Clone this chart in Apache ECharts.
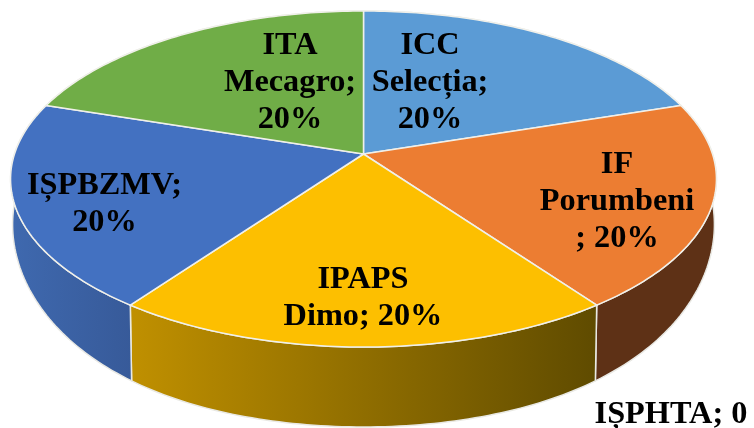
<!DOCTYPE html>
<html>
<head>
<meta charset="utf-8">
<style>
  html, body { margin: 0; padding: 0; background: #fff; }
  #chart { width: 754px; height: 428px; }
</style>
<script src="https://cdn.jsdelivr.net/npm/echarts@6/dist/echarts.min.js"></script>
</head>
<body>
<div id="chart"></div>
<script>
// data
var categories = ['ICC Selecția', 'IF Porumbeni', 'IPAPS Dimo', 'IȘPBZMV', 'ITA Mecagro', 'IȘPHTA'];
var values = [20, 20, 20, 20, 20, 0];
var labelTexts = [
  'ICC\nSelecția;\n20%',
  'IF\nPorumbeni\n; 20%',
  'IPAPS\nDimo; 20%',
  'IȘPBZMV;\n20%',
  'ITA\nMecagro;\n20%',
  'IȘPHTA; 0'
];

// look
var topColors = ['#5b9bd5', '#ec7d32', '#fdbf00', '#4371c1', '#70ad47', '#264478'];
var wallColors = [
  ['#5b9bd5', '#5b9bd5'],
  ['#5e3116', '#5e3116'],
  ['#c09000', '#5f4b00'],
  ['#3f69af', '#375a99'],
  ['#70ad47', '#70ad47'],
  ['#264478', '#264478']
];
var labelPos = [[430, 83], [617, 202], [363, 298], [104.5, 204], [290, 83], [671, 415]];

// the tilted disc: perspective projection of a circle, k is the perspective strength,
// bulge squares off the lower rim a little
var topDisc = { cx: 363.5, cy: 154, a: 349, b: 164.3, k: 0.1488, bulge: 0 };
var baseDisc = { cx: 363.5, cy: 193.8, a: 347, b: 198.5, k: 0.1488, bulge: 5 };

function project(deg, d) {
  var t = deg * Math.PI / 180;
  var u = Math.sin(t), v = Math.cos(t);
  var w = 1 + d.k * v;
  var s = Math.sin(2 * t);
  return [d.cx + d.a * u / w, d.cy - d.b * v / w + d.bulge * s * s];
}

function arc(from, to, d) {
  var pts = [];
  var n = Math.max(2, Math.ceil(Math.abs(to - from)));
  for (var i = 0; i <= n; i++) {
    pts.push(project(from + (to - from) * i / n, d));
  }
  return pts;
}

var total = values.reduce(function (s, x) { return s + x; }, 0);
function angles(idx) {
  var before = 0;
  for (var i = 0; i < idx; i++) before += values[i];
  return [before / total * 360, (before + values[idx]) / total * 360];
}

var seriesData = values.map(function (v, i) {
  return { name: categories[i], value: v };
});

var chart = echarts.init(document.getElementById('chart'));
chart.setOption({
  animation: false,
  backgroundColor: '#fff',
  series: [
    {
      // side walls go under the tops
      type: 'custom',
      coordinateSystem: 'none',
      z: 1,
      data: seriesData,
      renderItem: function (params, api) {
        var i = params.dataIndex;
        if (!api.value(0)) return;
        var a = angles(i);
        var pts = arc(a[0], a[1], topDisc).concat(arc(a[1], a[0], baseDisc));
        return {
          type: 'polygon',
          shape: { points: pts },
          style: {
            fill: new echarts.graphic.LinearGradient(0, 0, 1, 0, [
              { offset: 0, color: wallColors[i][0] },
              { offset: 1, color: wallColors[i][1] }
            ]),
            stroke: '#e9e9e4',
            lineWidth: 1.5
          }
        };
      }
    },
    {
      type: 'custom',
      coordinateSystem: 'none',
      z: 2,
      data: seriesData,
      renderItem: function (params, api) {
        var i = params.dataIndex;
        if (!api.value(0)) return;
        var a = angles(i);
        var pts = [[topDisc.cx, topDisc.cy]].concat(arc(a[0], a[1], topDisc));
        return {
          type: 'polygon',
          shape: { points: pts },
          style: { fill: topColors[i], stroke: '#f0f0ea', lineWidth: 1.5 }
        };
      }
    },
    {
      type: 'custom',
      coordinateSystem: 'none',
      z: 3,
      data: seriesData,
      renderItem: function (params) {
        var i = params.dataIndex;
        return {
          type: 'text',
          x: labelPos[i][0],
          y: labelPos[i][1],
          style: {
            text: labelTexts[i],
            fill: '#000',
            font: 'bold 32.3px "Liberation Serif"',
            lineHeight: 37,
            align: 'center',
            verticalAlign: 'middle'
          }
        };
      }
    }
  ]
});
</script>
</body>
</html>
